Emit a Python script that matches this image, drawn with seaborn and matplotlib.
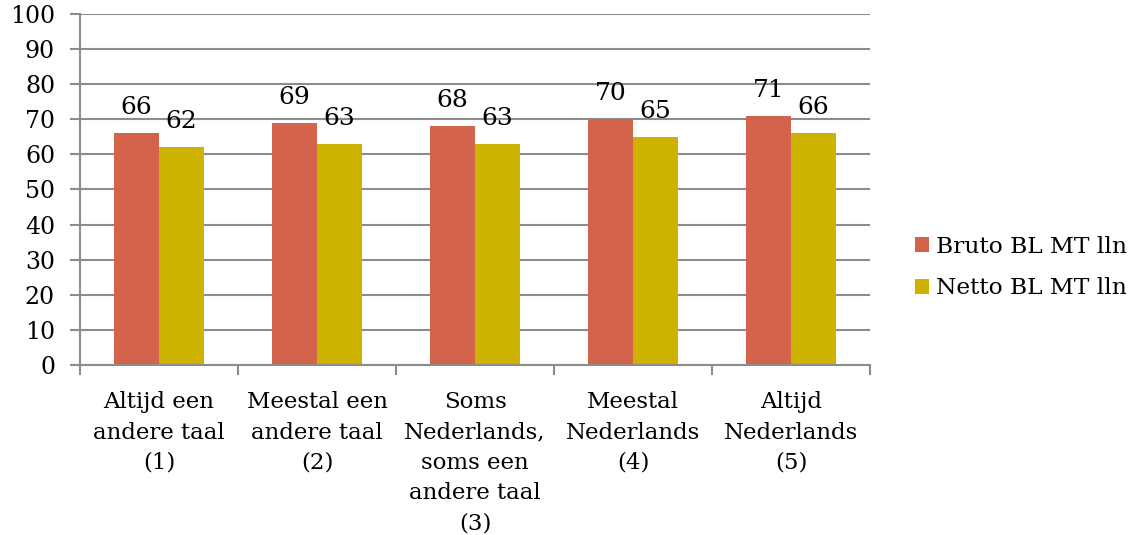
import matplotlib
matplotlib.use("Agg")
import matplotlib.pyplot as plt
import seaborn as sns
import pandas as pd
from matplotlib.patches import Patch

categories = [
    "Altijd een\nandere taal\n(1)",
    "Meestal een\nandere taal\n(2)",
    "Soms\nNederlands,\nsoms een\nandere taal\n(3)",
    "Meestal\nNederlands\n(4)",
    "Altijd\nNederlands\n(5)",
]
series_names = ["Bruto BL MT lln", "Netto BL MT lln"]
bruto = [66, 69, 68, 70, 71]
netto = [62, 63, 63, 65, 66]
y_ticks = [0, 10, 20, 30, 40, 50, 60, 70, 80, 90, 100]

colors = ["#D3634B", "#CDB300"]
grid_color = "#8C8C8C"

df = pd.DataFrame({
    "categorie": categories * 2,
    "reeks": [series_names[0]] * len(categories) + [series_names[1]] * len(categories),
    "waarde": bruto + netto,
})

sns.set_style("white")
plt.rcParams["font.family"] = ["DejaVu Serif"]
plt.rcParams["text.color"] = "black"
plt.rcParams["xtick.color"] = "black"
plt.rcParams["ytick.color"] = "black"

fig = plt.figure(figsize=(11.38, 5.35), dpi=100)
ax = fig.add_axes([0.0703, 0.3178, 0.6942, 0.656])

sns.barplot(data=df, x="categorie", y="waarde", hue="reeks", palette=colors,
            width=0.57, saturation=1, ax=ax, legend=False, errorbar=None,
            linewidth=0, edgecolor="none")

for container in ax.containers:
    ax.bar_label(container, fmt="%d", padding=10, fontsize=18)

ax.set_ylim(0, 100)
ax.set_xlim(-0.5, len(categories) - 0.5)
ax.set_yticks(y_ticks)
ax.set_yticklabels([str(t) for t in y_ticks], fontsize=17)
ax.yaxis.grid(True, color=grid_color, linewidth=1.5)
ax.set_axisbelow(True)
ax.set_xlabel("")
ax.set_ylabel("")

# category separator ticks on the x axis
ax.set_xticks([i - 0.5 for i in range(len(categories) + 1)], minor=True)
ax.set_xticks(range(len(categories)))
ax.set_xticklabels(categories, fontsize=16.5, linespacing=1.48, va="top")
ax.tick_params(axis="x", which="major", bottom=False, length=0, pad=19)
ax.tick_params(axis="x", which="minor", bottom=True, length=7, width=1.5,
               color=grid_color)
ax.tick_params(axis="y", left=True, length=7, width=1.5, color=grid_color,
               labelcolor="black", pad=11)

for side in ["top", "right"]:
    ax.spines[side].set_visible(False)
for side in ["left", "bottom"]:
    ax.spines[side].set_color(grid_color)
    ax.spines[side].set_linewidth(1.5)

handles = [Patch(facecolor=c, edgecolor="none") for c in colors]
fig.legend(handles, series_names, loc="center left", bbox_to_anchor=(0.804, 0.50),
           frameon=False, fontsize=16.8, handlelength=0.6, handleheight=0.6,
           handletextpad=0.3, labelspacing=0.85, borderaxespad=0, borderpad=0)

fig.savefig("out.png", dpi=100)
